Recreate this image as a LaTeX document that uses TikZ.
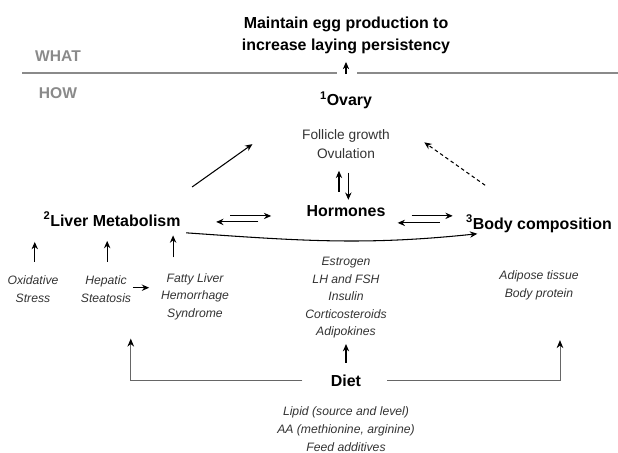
\documentclass[tikz,border=0pt]{standalone}
\usepackage{fontspec}
\setmainfont{Liberation Sans}
\usetikzlibrary{arrows.meta, positioning}

\definecolor{txtgray}{HTML}{333333}
\definecolor{rulegray}{HTML}{8A8A8A}

\begin{document}
\begin{tikzpicture}[
  x=0.03cm, y=-0.03cm,
  hub/.style={font=\bfseries\fontsize{13.6}{19.6}\selectfont, align=center, inner sep=1pt},
  sub/.style={font=\fontsize{11.7}{17}\selectfont, text=txtgray, align=center, inner sep=1pt},
  note/.style={font=\itshape\fontsize{10.4}{15}\selectfont, text=txtgray, align=center, inner sep=1pt},
  side/.style={font=\bfseries\fontsize{13.3}{16}\selectfont, text=rulegray, inner sep=1pt},
  feed/.style={draw=black!60, line width=0.8pt, -{Stealth[length=2.4mm, width=2mm, black]}},
  >={Stealth[length=2.2mm, width=1.9mm]},
  line width=0.9pt
]
\useasboundingbox (0,0) rectangle (618,453);

% goal and levels
\node[hub, anchor=base] (goal) at (346,51) {Maintain egg production to\\increase laying persistency};
\node[side, anchor=base] (what) at (58,62) {WHAT};
\node[side, anchor=base] (how) at (58,99) {HOW};
\draw[rulegray, line width=1.2pt] (22,73) -- (337,73) (357,73) -- (618,73);

% hubs
\node[hub, anchor=base] (ovary) at (346,106) {\textsuperscript{1}Ovary};
\node[sub, below=14pt of ovary] (follicle) {Follicle growth\\Ovulation};
\node[hub, anchor=base] (hormones) at (346,216) {Hormones};
\node[note, below=32pt of hormones] (hormlist) {Estrogen\\LH and FSH\\Insulin\\Corticosteroids\\Adipokines};
\node[hub, anchor=base] (liver) at (112,226) {\textsuperscript{2}Liver Metabolism};
\node[hub, anchor=base] (body) at (539,229) {\textsuperscript{3}Body composition};
\node[note, below=30pt of body] (bodylist) {Adipose tissue\\Body protein};
\node[hub, anchor=base] (diet) at (346,386) {Diet};
\node[note, below=15pt of diet] (dietlist) {Lipid (source and level)\\AA (methionine, arginine)\\Feed additives};

% liver factors
\node[note, anchor=base] (oxid) at (33,302.5) {Oxidative\\Stress};
\node[note, anchor=base] (hepatic) at (106,302.5) {Hepatic\\Steatosis};
\node[note, anchor=base] (fatty) at (195,317.5) {Fatty Liver\\Hemorrhage\\Syndrome};

% arrows
\draw[->] ([yshift=14pt]ovary.north) -- ([yshift=-5pt]goal.south);
\draw[->] ([xshift=-6pt,yshift=10pt]hormones.north) -- ([xshift=-6pt,yshift=-8.5pt]follicle.south);
\draw[->] ([xshift=2pt,yshift=-10pt]follicle.south) -- ([xshift=2pt,yshift=3pt]hormones.north);
\draw[->] ([xshift=8.5pt,yshift=20pt]liver.north east) -- ([xshift=-41pt]follicle.west);
\draw[->, dash pattern=on 3pt off 2.5pt] ([xshift=-46pt,yshift=24pt]body.north) -- ([xshift=28pt,yshift=1.5pt]follicle.east);

\draw[->] ([xshift=41pt,yshift=2.7pt]liver.east) -- ++(35pt,0);
\draw[->] ([xshift=65pt,yshift=-2.4pt]liver.east) -- ++(-36pt,0);
\draw[->] ([xshift=-45pt,yshift=6.7pt]body.west) -- ++(35pt,0);
\draw[->] ([xshift=-21pt,yshift=0.7pt]body.west) -- ++(-36pt,0);
\draw[->] ([xshift=3.4pt,yshift=-11.7pt]liver.east) to[out=-4, in=186] ([xshift=11pt,yshift=-8.6pt]body.west);

\draw[->] ([xshift=1.5pt,yshift=10.7pt]oxid.north) -- ([xshift=1.5pt,yshift=27.7pt]oxid.north);
\draw[->] ([xshift=1pt,yshift=10.7pt]hepatic.north) -- ([xshift=1pt,yshift=28.6pt]hepatic.north);
\draw[->] ([xshift=-18.7pt,yshift=12.4pt]fatty.north) -- ([xshift=-18.7pt,yshift=31.1pt]fatty.north);
\draw[->] ([yshift=1.4pt]hepatic.east) -- ++(14pt,0);

% diet
\draw[feed] ([xshift=-23pt]diet.west) -| ([xshift=-1.7pt,yshift=-29.3pt]hepatic.south east);
\draw[feed] ([xshift=21pt]diet.east) -| ([xshift=17.9pt,yshift=-33pt]bodylist.south);
\draw[->] ([yshift=8.5pt]diet.north) -- ([yshift=-3.5pt]hormlist.south);
\end{tikzpicture}
\end{document}
